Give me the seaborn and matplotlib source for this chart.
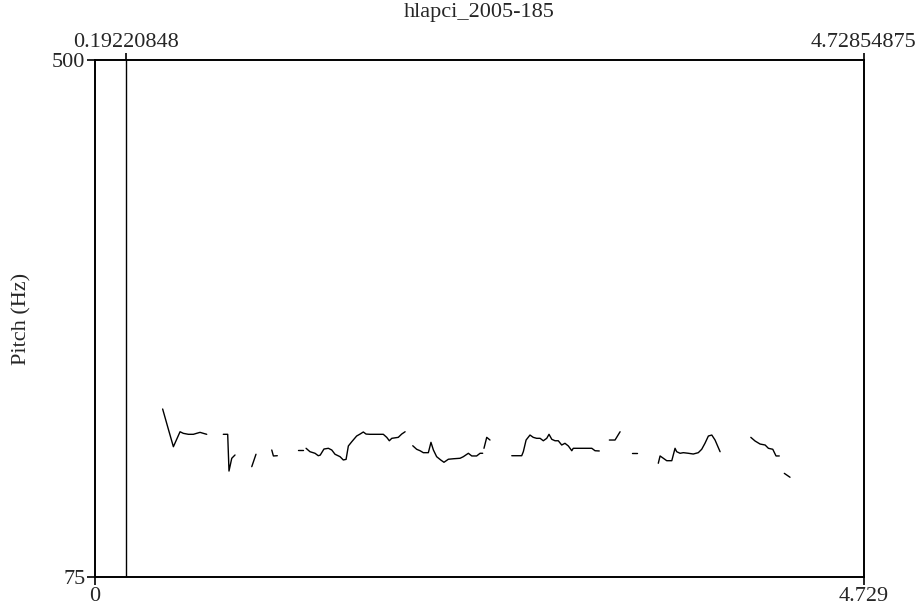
import numpy as np
import pandas as pd
import matplotlib
matplotlib.use("Agg")
import matplotlib.pyplot as plt
import seaborn as sns

# Pitch contour (voiced stretches), time in seconds and F0 in Hz
seg_times = [
    [0.416, 0.449, 0.482, 0.523, 0.543, 0.574, 0.605, 0.625, 0.646, 0.666, 0.687],
    [0.789, 0.816, 0.824, 0.841, 0.861],
    [0.964, 0.990],
    [1.087, 1.097, 1.121],
    [1.250, 1.281],
    [1.298, 1.322, 1.353, 1.373, 1.385, 1.408, 1.435, 1.456, 1.476, 1.507, 1.527,
     1.544, 1.558, 1.579, 1.609, 1.630, 1.650, 1.667, 1.691, 1.732, 1.773, 1.794,
     1.810, 1.825, 1.865, 1.886, 1.907],
    [1.954, 1.978, 1.999, 2.019, 2.050, 2.066, 2.081, 2.101, 2.126, 2.146, 2.173,
     2.204, 2.245, 2.265, 2.296, 2.317, 2.347, 2.368, 2.384],
    [2.392, 2.409, 2.429],
    [2.563, 2.624, 2.634, 2.651, 2.675, 2.695, 2.716, 2.737, 2.757, 2.778, 2.792,
     2.809, 2.829, 2.849, 2.870, 2.890, 2.911, 2.932, 2.941, 2.983, 3.024, 3.055,
     3.075, 3.101],
    [3.163, 3.198, 3.229],
    [3.301, 3.331],
    [3.464, 3.475, 3.495, 3.516, 3.547, 3.567, 3.577, 3.598, 3.618, 3.649, 3.679,
     3.710, 3.731, 3.751, 3.772, 3.793, 3.813, 3.844],
    [4.033, 4.059, 4.090, 4.121, 4.141, 4.168, 4.188, 4.208],
    [4.239, 4.274],
]
seg_pitch = [
    [213.1, 197.5, 182.1, 194.4, 193.1, 192.3, 192.3, 193.1, 193.9, 193.1, 192.3],
    [192.3, 192.3, 162.1, 172.6, 175.3],
    [165.7, 175.9],
    [179.4, 174.5, 174.7],
    [179.4, 179.4],
    [180.8, 178.0, 176.7, 174.7, 175.2, 180.2, 180.8, 179.4, 175.9, 173.9, 171.2,
     171.7, 182.7, 186.2, 190.9, 192.5, 194.2, 192.5, 192.3, 192.3, 192.3, 189.8,
     187.0, 189.0, 189.8, 192.5, 194.4],
    [182.9, 180.0, 178.8, 177.2, 177.2, 185.7, 179.4, 173.9, 171.2, 169.3, 171.8,
     172.2, 172.6, 173.9, 176.7, 174.5, 174.5, 176.7, 176.7],
    [180.8, 189.8, 187.6],
    [174.7, 174.7, 178.0, 187.6, 191.7, 189.8, 189.0, 189.0, 187.0, 189.0, 192.3,
     188.2, 187.0, 187.0, 183.5, 184.9, 182.7, 178.8, 180.8, 180.8, 180.8, 180.8,
     178.8, 178.6],
    [187.6, 187.6, 194.4],
    [176.7, 176.7],
    [168.5, 174.5, 172.6, 170.6, 170.6, 180.8, 178.0, 176.7, 177.2, 176.7, 176.1,
     177.2, 180.0, 184.9, 190.9, 191.7, 187.6, 178.0],
    [189.8, 186.8, 184.3, 183.5, 180.8, 180.0, 174.5, 174.5],
    [160.2, 157.0],
]

title = "hlapci_2005-185"
sel_start = 0.19220848
sel_end = 4.72854875
t_max = 4.729
f_min, f_max = 75, 500

rows = []
for k, (ts, ps) in enumerate(zip(seg_times, seg_pitch)):
    for t, p in zip(ts, ps):
        rows.append({"seg": k, "time": t, "pitch": p})
df = pd.DataFrame(rows)

sns.set_theme(style="white")
plt.rcParams["font.family"] = ["Liberation Serif", "DejaVu Serif"]

fig = plt.figure(figsize=(9.24, 6.09), dpi=100)
ax = fig.add_axes([95 / 924, 32 / 609, 769 / 924, 517 / 609])

sns.lineplot(data=df, x="time", y="pitch", units="seg", estimator=None,
             color="black", linewidth=1.0, ax=ax, legend=False)
ax.axvline(sel_start, color="black", linewidth=1.0)

ax.set_xlim(0, t_max)
ax.set_ylim(f_min, f_max)
for s in ax.spines.values():
    s.set_color("black")
    s.set_linewidth(1.4)

fs = 16
ax.set_xticks([0, t_max])
ax.set_xticklabels(["0", "4.729"], fontsize=fs)
ax.set_yticks([f_min, f_max])
ax.set_yticklabels([str(f_min), str(f_max)], fontsize=fs)
ax.tick_params(axis="both", direction="out", length=6, width=1.2,
               color="black", pad=1, left=True, bottom=True)
ax.set_xlabel("")
ax.set_ylabel("Pitch (Hz)", fontsize=fs)
ax.yaxis.set_label_coords(-64 / 769, 0.5)

top = ax.secondary_xaxis("top")
top.set_xticks([sel_start, sel_end])
top.set_xticklabels([f"{sel_start:.8f}", f"{sel_end:.8f}"], fontsize=fs)
top.tick_params(direction="out", length=5, width=1.2, color="black", pad=1)
top.spines["top"].set_visible(False)

fig.text(0.5 * (95 + 864) / 924, 1 - 12 / 609, title, ha="center", va="center",
         fontsize=fs)

fig.savefig("out.png", dpi=100)
